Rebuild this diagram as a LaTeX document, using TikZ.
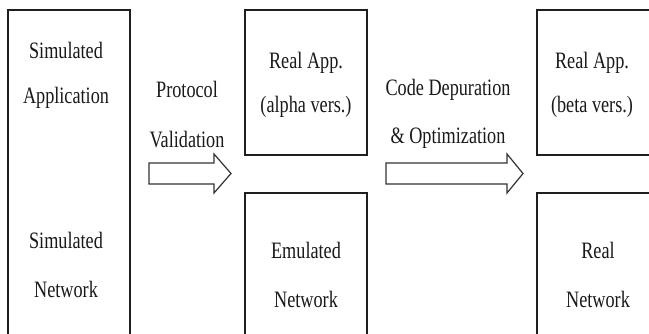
\documentclass[tikz,border=0pt]{standalone}
\usepackage{fontspec}
\setmainfont{Liberation Serif}[FakeStretch=0.775]
\begin{document}
\begin{tikzpicture}[x=1pt,y=-1pt,
  box/.style={draw=black!88,line width=1.3pt},
  bigarrow/.style={draw=black!80,line width=1.2pt,fill=white,line join=miter},
  lbl/.style={anchor=base,align=center,inner sep=0pt,font=\fontsize{23.5}{47}\selectfont,text=black!90}]
\useasboundingbox (0,0) rectangle (649,333);
\clip (0,0) rectangle (649,333);
% boxes
\path[box] (8,10) rectangle (130,345) node[pos=0.5] (simbox) {};
\path[box] (245,10) rectangle (367,155) node[pos=0.5] (alphabox) {};
\path[box] (245,193) rectangle (367,345) node[pos=0.5] (emubox) {};
\path[box] (537,10) rectangle (660,155) node[pos=0.5] (betabox) {};
\path[box] (537,193) rectangle (660,345) node[pos=0.5] (realbox) {};
% arrows
\path[bigarrow] (149,163) -- (214,163) -- (214,154) -- (231,173.5) -- (214,193) -- (214,184) -- (149,184) -- cycle;
\path[bigarrow] (386,163) -- (507,163) -- (507,154) -- (523,173.5) -- (507,193) -- (507,184) -- (386,184) -- cycle;
% labels (anchor at baseline of the last line)
\node[lbl,font=\fontsize{23.5}{45}\selectfont] (simapp) at (66,103) {Simulated\\Application};
\node[lbl,font=\fontsize{23.5}{49}\selectfont] (simnet) at (66,297) {Simulated\\Network};
\node[lbl,font=\fontsize{23.5}{50}\selectfont] (proto) at (187,147) {Protocol\\Validation};
\node[lbl,font=\fontsize{23.5}{44}\selectfont] (alpha) at (306,112) {Real App.\\(alpha vers.)};
\node[lbl,font=\fontsize{23.5}{49}\selectfont] (emu) at (306,307) {Emulated\\Network};
\node[lbl,font=\fontsize{23.5}{48}\selectfont] (code) at (448,143) {Code Depuration\\\& Optimization};
\node[lbl,font=\fontsize{23.5}{44}\selectfont] (beta) at (592,112) {Real App.\\(beta vers.)};
\node[lbl,font=\fontsize{23.5}{49}\selectfont] (realnet) at (598,307) {Real\\Network};
\end{tikzpicture}
\end{document}
